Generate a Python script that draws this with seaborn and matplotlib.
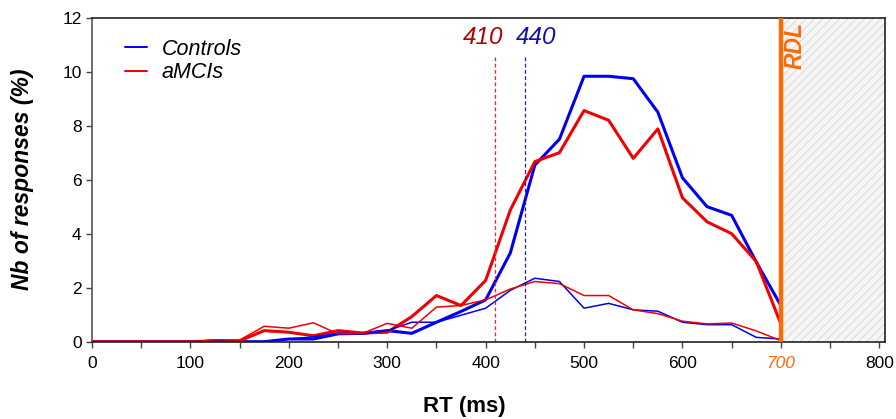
import matplotlib
matplotlib.use("Agg")
import matplotlib.pyplot as plt
from matplotlib.ticker import MultipleLocator
import seaborn as sns
import pandas as pd

rt = [0, 25, 50, 75, 100, 125, 150, 175, 200, 225, 250, 275, 300, 325, 350,
      375, 400, 425, 450, 475, 500, 525, 550, 575, 600, 625, 650, 675, 700]
controls_main = [0, 0, 0, 0, 0, 0, 0, 0, 0.1, 0.1, 0.29, 0.31, 0.41, 0.31, 0.72,
                 1.12, 1.55, 3.28, 6.54, 7.5, 9.83, 9.83, 9.74, 8.5, 6.07, 5.0, 4.68, 2.95, 1.34]
controls_sub = [0, 0, 0, 0, 0, 0.06, 0, 0, 0.1, 0.18, 0.31, 0.28, 0.41, 0.72, 0.72,
                0.98, 1.24, 1.9, 2.35, 2.23, 1.24, 1.42, 1.18, 1.13, 0.72, 0.63, 0.63, 0.16, 0.1]
amci_main = [0, 0, 0, 0, 0, 0.03, 0.03, 0.41, 0.35, 0.22, 0.41, 0.32, 0.35, 0.93, 1.71,
             1.34, 2.27, 4.87, 6.67, 7.0, 8.56, 8.2, 6.79, 7.88, 5.33, 4.44, 4.0, 2.97, 0.66]
amci_sub = [0, 0, 0, 0, 0, 0.07, 0.06, 0.57, 0.5, 0.7, 0.29, 0.31, 0.68, 0.5, 1.28,
            1.34, 1.55, 1.95, 2.23, 2.15, 1.71, 1.71, 1.18, 1.04, 0.76, 0.66, 0.69, 0.4, 0.04]

median_amci = 410
median_controls = 440
rdl = 700
xticks = [0, 100, 200, 300, 400, 500, 600, 700, 800]
yticks = [0, 2, 4, 6, 8, 10, 12]

sns.set_theme(style="ticks")
plt.rcParams['font.family'] = ['Liberation Sans', 'DejaVu Sans']
plt.rcParams['text.color'] = 'black'
plt.rcParams['axes.labelcolor'] = 'black'
plt.rcParams['xtick.color'] = '#444444'
plt.rcParams['ytick.color'] = '#444444'
plt.rcParams['xtick.labelcolor'] = 'black'
plt.rcParams['ytick.labelcolor'] = 'black'
plt.rcParams['hatch.linewidth'] = 0.8

BLUE = "#0000f0"
RED = "#f00000"
ORANGE = "#ff6a00"

fig = plt.figure(figsize=(8.96, 4.19), dpi=100)
ax = fig.add_axes([0.1027, 0.1845, 0.885, 0.7733])

df_c = pd.DataFrame({"rt": rt, "main": controls_main, "sub": controls_sub})
df_a = pd.DataFrame({"rt": rt, "main": amci_main, "sub": amci_sub})

sns.lineplot(data=df_c, x="rt", y="main", ax=ax, color=BLUE, lw=2.2, label="Controls")
sns.lineplot(data=df_a, x="rt", y="main", ax=ax, color=RED, lw=2.2, label="aMCIs")
sns.lineplot(data=df_c, x="rt", y="sub", ax=ax, color=BLUE, lw=1.1)
sns.lineplot(data=df_a, x="rt", y="sub", ax=ax, color=RED, lw=1.1)

# median lines
ax.plot([median_amci, median_amci], [0, 10.6], color="#ff2020", lw=0.9, ls=(0, (3, 2)))
ax.plot([median_controls, median_controls], [0, 10.6], color="#2020aa", lw=0.9, ls=(0, (3, 2)))
ax.text(397, 11.28, str(median_amci), color="#b00000", fontsize=17.5,
        fontstyle="italic", ha="center", va="center")
ax.text(451, 11.28, str(median_controls), color="#1010b0", fontsize=17.5,
        fontstyle="italic", ha="center", va="center")

# RDL zone
ax.axvspan(rdl, 805.8, facecolor="#f6f6f6", edgecolor="#dcdcdc", hatch="////", lw=0, zorder=0)
ax.axvline(rdl, color=ORANGE, lw=3.2, zorder=5)
ax.text(714.5, 11.85, "RDL", color=ORANGE, fontsize=16.5, fontstyle="italic",
        fontweight="bold", rotation=90, ha="center", va="top")

ax.set_xlim(0, 805.8)
ax.set_ylim(0, 12)
ax.set_xticks(xticks)
ax.set_yticks(yticks)
ax.xaxis.set_minor_locator(MultipleLocator(50))
ax.tick_params(which="both", labelsize=12.5, direction="out", length=4, width=1)
ax.tick_params(axis="x", pad=6)
for lab in ax.get_xticklabels():
    if lab.get_text() == str(rdl):
        lab.set_color(ORANGE)
        lab.set_fontstyle("italic")

for s in ax.spines.values():
    s.set_color("#222222")
    s.set_linewidth(1.2)
ax.spines["left"].set_color("#555555")

ax.set_xlabel("RT (ms)", fontsize=16, fontweight="bold", labelpad=20)
ax.xaxis.set_label_coords(0.47, -0.2)
ax.xaxis.label.set_va("center")
ax.set_ylabel("Nb of responses (%)", fontsize=16.5, fontweight="bold", fontstyle="italic")
ax.yaxis.set_label_coords(-0.073, 0.5)

leg = ax.legend(loc="upper left", bbox_to_anchor=(0.042, 0.935), frameon=False,
                handlelength=1.0, handletextpad=0.7, labelspacing=0.12,
                borderaxespad=0, borderpad=0, prop={"size": 15.5, "style": "italic"})
for l in leg.get_lines():
    l.set_linewidth(1.4)

fig.savefig("out.png", dpi=100)
